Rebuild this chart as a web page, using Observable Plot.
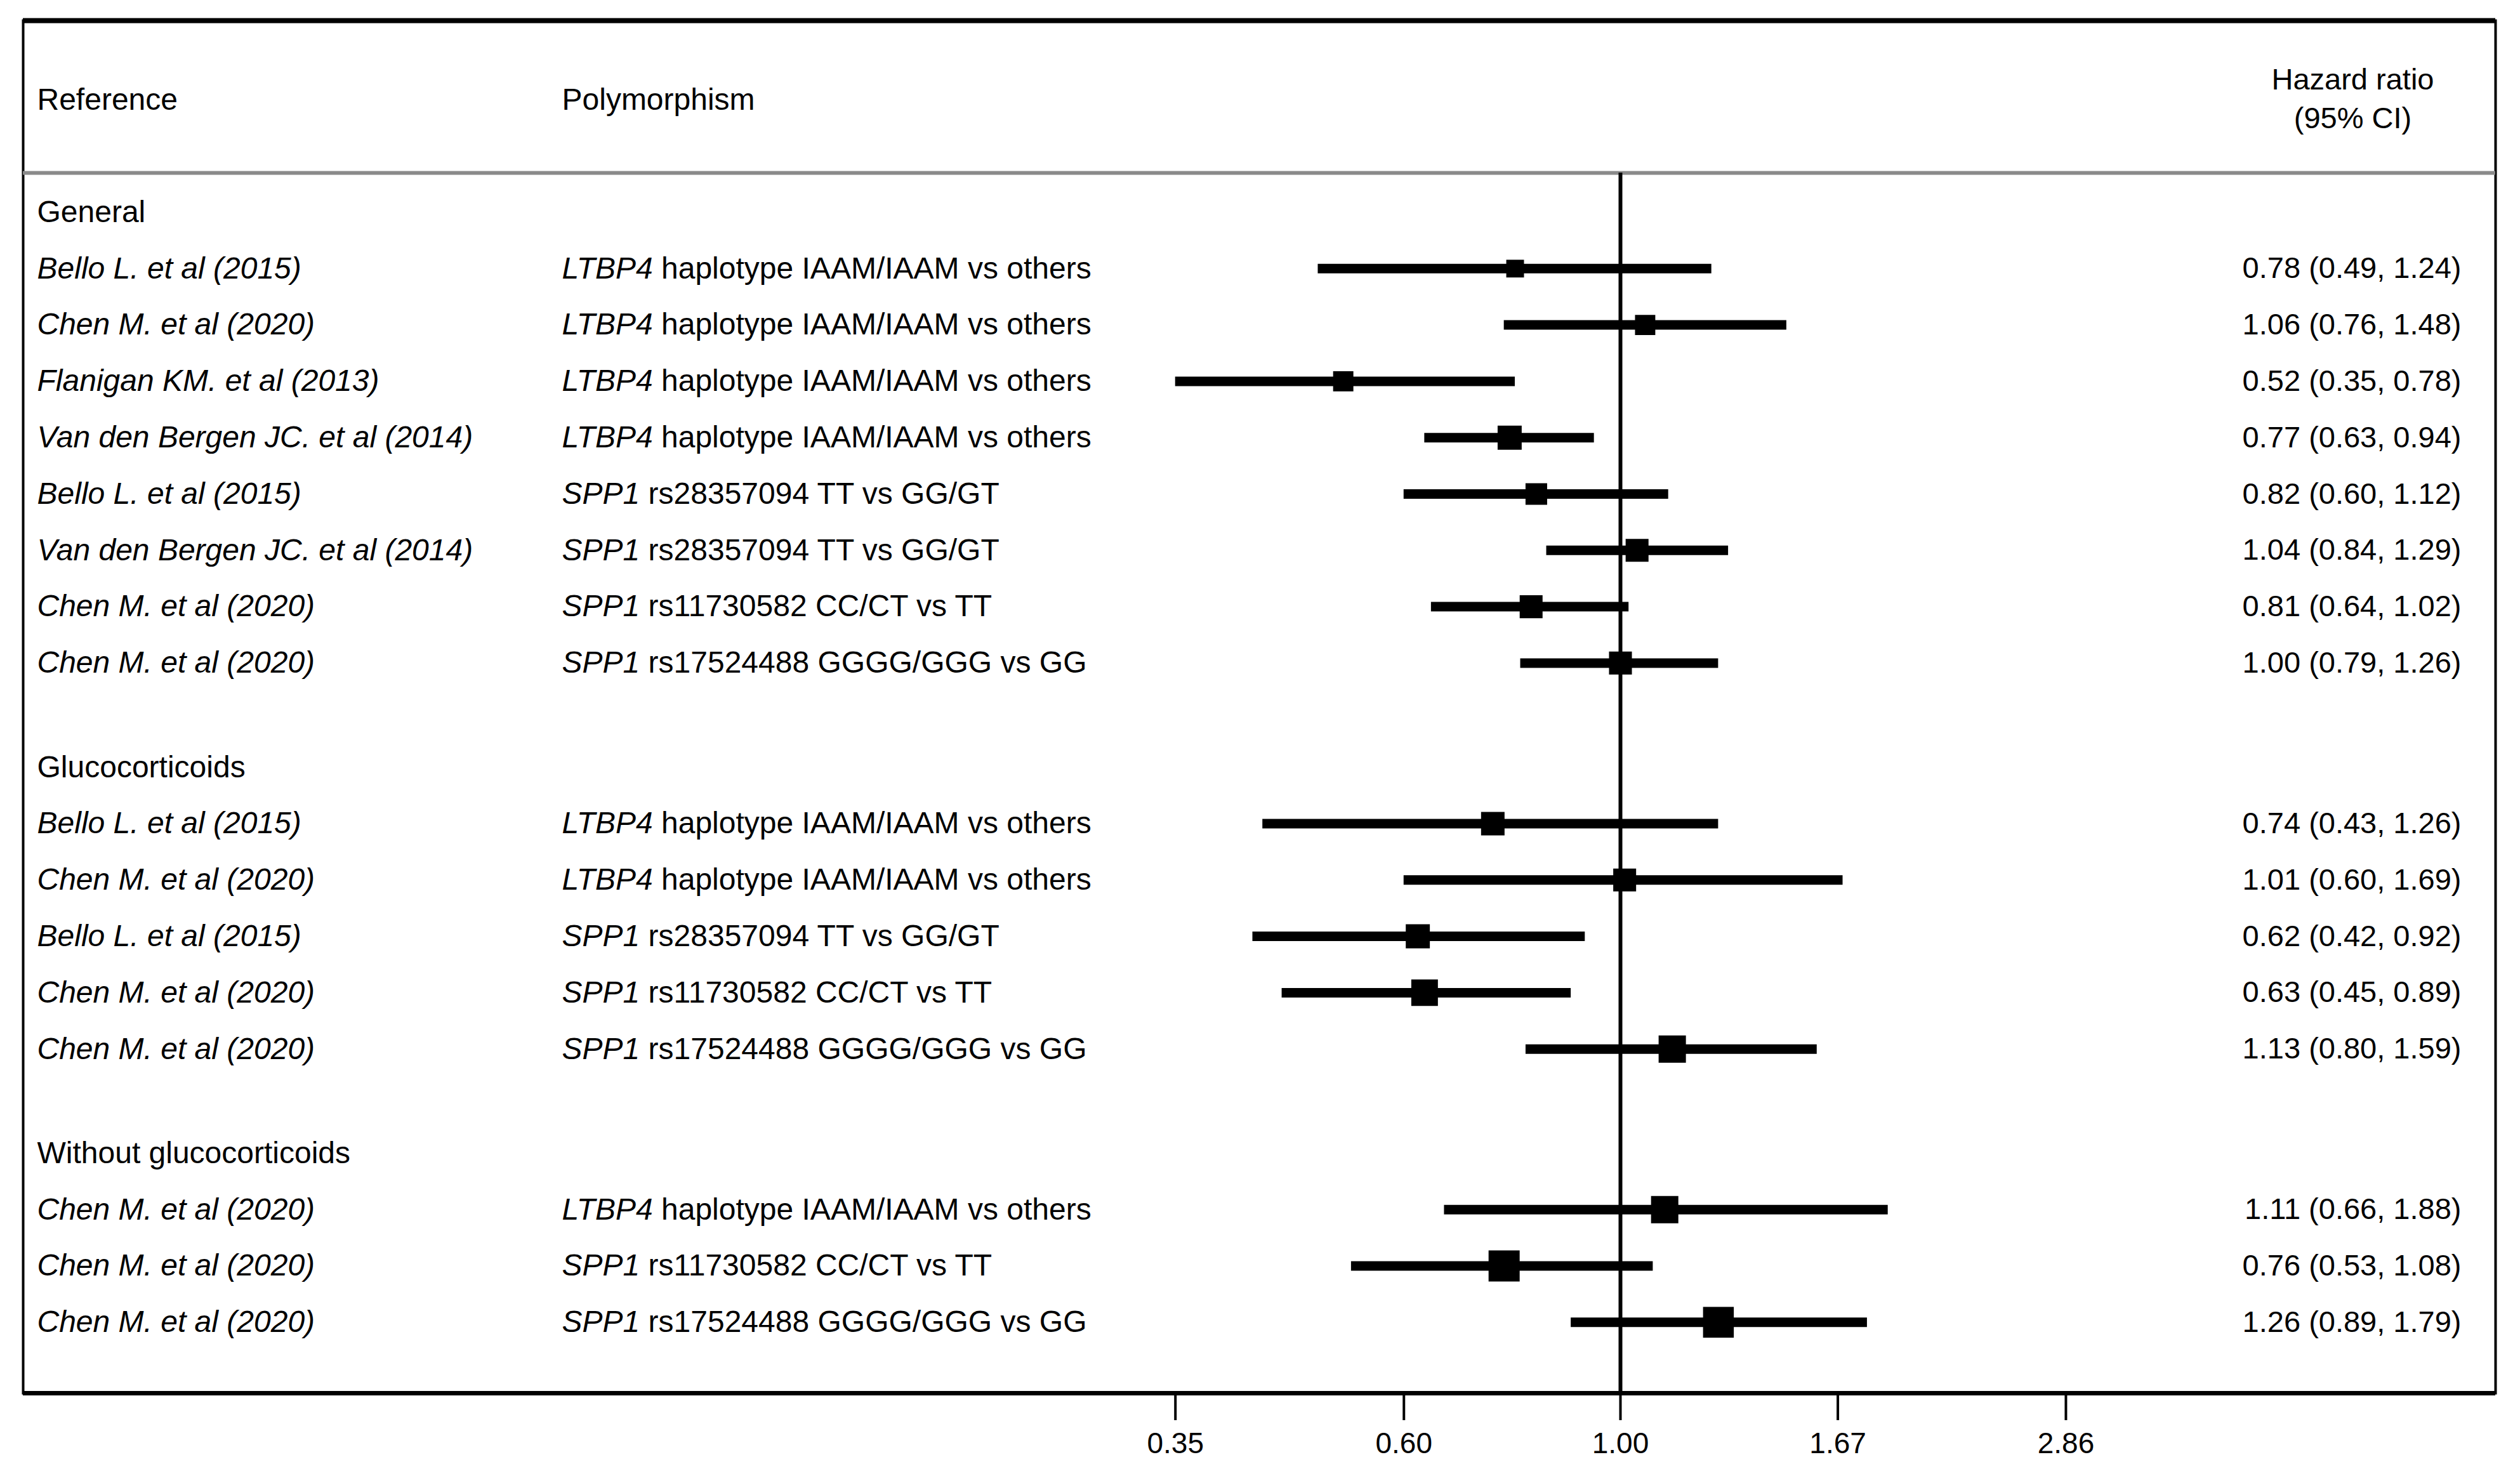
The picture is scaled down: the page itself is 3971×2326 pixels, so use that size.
<!DOCTYPE html>
<html>
<head>
<meta charset="utf-8">
<script src="https://cdn.jsdelivr.net/npm/d3@7"></script>
<script src="https://cdn.jsdelivr.net/npm/@observablehq/plot@0.6"></script>
<style>
  html, body { margin: 0; padding: 0; background: #fff; }
  #chart svg { display: block; }
</style>
</head>
<body>
<div id="chart"></div>
<script>
// ---------------- DATA ----------------
const groups = ["General", "Glucocorticoids", "Without glucocorticoids"];

const rowGroups = [
  "General", "General", "General", "General", "General", "General", "General", "General",
  "Glucocorticoids", "Glucocorticoids", "Glucocorticoids", "Glucocorticoids", "Glucocorticoids",
  "Without glucocorticoids", "Without glucocorticoids", "Without glucocorticoids"
];

const references = [
  "Bello L. et al (2015)",
  "Chen M. et al (2020)",
  "Flanigan KM. et al (2013)",
  "Van den Bergen JC. et al (2014)",
  "Bello L. et al (2015)",
  "Van den Bergen JC. et al (2014)",
  "Chen M. et al (2020)",
  "Chen M. et al (2020)",
  "Bello L. et al (2015)",
  "Chen M. et al (2020)",
  "Bello L. et al (2015)",
  "Chen M. et al (2020)",
  "Chen M. et al (2020)",
  "Chen M. et al (2020)",
  "Chen M. et al (2020)",
  "Chen M. et al (2020)"
];

const polymorphisms = [
  "LTBP4 haplotype IAAM/IAAM vs others",
  "LTBP4 haplotype IAAM/IAAM vs others",
  "LTBP4 haplotype IAAM/IAAM vs others",
  "LTBP4 haplotype IAAM/IAAM vs others",
  "SPP1 rs28357094 TT vs GG/GT",
  "SPP1 rs28357094 TT vs GG/GT",
  "SPP1 rs11730582 CC/CT vs TT",
  "SPP1 rs17524488 GGGG/GGG vs GG",
  "LTBP4 haplotype IAAM/IAAM vs others",
  "LTBP4 haplotype IAAM/IAAM vs others",
  "SPP1 rs28357094 TT vs GG/GT",
  "SPP1 rs11730582 CC/CT vs TT",
  "SPP1 rs17524488 GGGG/GGG vs GG",
  "LTBP4 haplotype IAAM/IAAM vs others",
  "SPP1 rs11730582 CC/CT vs TT",
  "SPP1 rs17524488 GGGG/GGG vs GG"
];

const hazardRatios = [0.78, 1.06, 0.52, 0.77, 0.82, 1.04, 0.81, 1.00, 0.74, 1.01, 0.62, 0.63, 1.13, 1.11, 0.76, 1.26];
const ciLower      = [0.49, 0.76, 0.35, 0.63, 0.60, 0.84, 0.64, 0.79, 0.43, 0.60, 0.42, 0.45, 0.80, 0.66, 0.53, 0.89];
const ciUpper      = [1.24, 1.48, 0.78, 0.94, 1.12, 1.29, 1.02, 1.26, 1.26, 1.69, 0.92, 0.89, 1.59, 1.88, 1.08, 1.79];
// relative study weights
const weights      = [7.8, 10.2, 10.2, 14.4, 11.6, 13.0, 13.0, 13.0, 13.7, 13.0, 14.4, 17.6, 18.5, 18.5, 24.0, 23.5];

const xTicks = [0.35, 0.60, 1.00, 1.67, 2.86];
const columnTitles = ["Reference", "Polymorphism", "Hazard ratio\n(95% CI)"];

// ---------------- LAYOUT ----------------
const W = 3971, H = 2326;
const FRAME = {left: 36, right: 3932, top: 32, bottom: 2195};
const ROW_PX = 88.8;          // pixel height of one row
const FIRST_ROW_PX = 334;     // centre of first group header
const GROUP_GAP = 1.85;       // rows between the last row of a group and the next header
const toSlot = px => (px - FIRST_ROW_PX) / ROW_PX;
const titleSlot = toSlot(157);
const hrTitleSlot = toSlot(151);
const sepSlot = toSlot(272);
const yTop = toSlot(FRAME.top), yBottom = toSlot(FRAME.bottom);
const X_ONE = 2553, X_PER_LN = 668;   // position of HR = 1 and px per ln unit
const LEFT_FONT = 48;

// build rows
const rows = [];
const headers = [];
let slot = 0;
groups.forEach((g, gi) => {
  if (gi > 0) slot += GROUP_GAP;
  headers.push({label: g, slot});
  rowGroups.forEach((rg, i) => {
    if (rg !== g) return;
    slot += 1;
    rows.push({
      slot,
      ref: references[i],
      poly: polymorphisms[i],
      hr: hazardRatios[i],
      lo: ciLower[i],
      hi: ciUpper[i],
      weight: weights[i],
      label: `${hazardRatios[i].toFixed(2)} (${ciLower[i].toFixed(2)}, ${ciUpper[i].toFixed(2)})`
    });
  });
});

const svg = Plot.plot({
  width: W,
  height: H,
  marginLeft: FRAME.left,
  marginRight: W - FRAME.right,
  marginTop: FRAME.top,
  marginBottom: H - FRAME.bottom,
  style: {
    fontFamily: "'Liberation Sans', Arial, Helvetica, sans-serif",
    fontSize: "47px",
    color: "black",
    background: "white"
  },
  x: {
    type: "log",
    domain: [xTicks[0], xTicks[xTicks.length - 1]],
    range: [X_ONE + X_PER_LN * Math.log(xTicks[0]), X_ONE + X_PER_LN * Math.log(xTicks[xTicks.length - 1])],
    label: null
  },
  y: {domain: [yTop, yBottom], reverse: true, axis: null},
  r: {type: "sqrt", domain: [0, 25], range: [0, 28.21]},
  marks: [
    Plot.frame({stroke: "black", strokeWidth: 4}),
    Plot.ruleY([yTop], {stroke: "black", strokeWidth: 8}),
    Plot.ruleY([yBottom], {stroke: "black", strokeWidth: 7}),
    Plot.ruleY([sepSlot], {stroke: "#8a8a8a", strokeWidth: 6}),
    Plot.ruleX([1], {y1: sepSlot, y2: yBottom, stroke: "black", strokeWidth: 6}),
    Plot.axisX({
      ticks: xTicks,
      tickFormat: d => d.toFixed(2),
      tickSize: 43,
      tickPadding: 19,
      strokeWidth: 4,
      fontSize: 46,
      label: null,
      anchor: "bottom"
    }),
    // column titles
    Plot.text([columnTitles[0]], {y: () => titleSlot, frameAnchor: "left", dx: 22, textAnchor: "start", fontSize: LEFT_FONT}),
    Plot.text([columnTitles[1]], {y: () => titleSlot, frameAnchor: "left", dx: 849, textAnchor: "start", fontSize: LEFT_FONT}),
    Plot.text([columnTitles[2]], {y: () => hrTitleSlot, frameAnchor: "right", dx: -225, textAnchor: "middle", lineHeight: 1.3}),
    // group headers
    Plot.text(headers, {y: "slot", text: "label", frameAnchor: "left", dx: 22, textAnchor: "start", fontSize: LEFT_FONT}),
    // rows
    Plot.text(rows, {y: "slot", text: "ref", frameAnchor: "left", dx: 22, textAnchor: "start", fontStyle: "italic", fontSize: LEFT_FONT}),
    Plot.text(rows, {y: "slot", text: "poly", frameAnchor: "left", dx: 849, textAnchor: "start", fontSize: LEFT_FONT}),
    Plot.text(rows, {y: "slot", text: "label", frameAnchor: "right", dx: -54, textAnchor: "end"}),
    // CIs and point estimates
    Plot.ruleY(rows, {y: "slot", x1: "lo", x2: "hi", stroke: "black", strokeWidth: 15}),
    Plot.dot(rows, {x: "hr", y: "slot", r: "weight", symbol: "square", fill: "black", stroke: "none"})
  ]
});

// italicise gene names inside the polymorphism column
const polySet = new Set(polymorphisms);
svg.querySelectorAll("text").forEach(t => {
  const s = t.textContent;
  if (t.children.length === 0 && polySet.has(s)) {
    const k = s.indexOf(" ");
    t.textContent = "";
    const it = document.createElementNS("http://www.w3.org/2000/svg", "tspan");
    it.setAttribute("font-style", "italic");
    it.textContent = s.slice(0, k);
    t.appendChild(it);
    t.appendChild(document.createTextNode(s.slice(k)));
  }
});

document.getElementById("chart").appendChild(svg);
</script>
</body>
</html>
